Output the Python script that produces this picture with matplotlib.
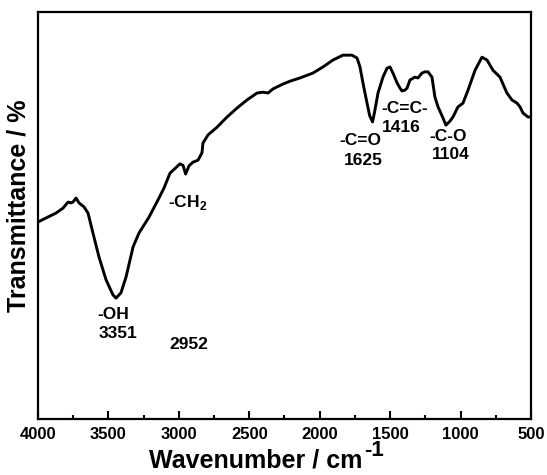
import matplotlib
matplotlib.use("Agg")
import matplotlib.pyplot as plt
from matplotlib.ticker import MultipleLocator

plt.rcParams['font.family'] = ['Liberation Sans', 'DejaVu Sans']
plt.rcParams['font.weight'] = 'bold'
plt.rcParams['mathtext.fontset'] = 'custom'
plt.rcParams['mathtext.rm'] = 'Liberation Sans:bold'
plt.rcParams['mathtext.bf'] = 'Liberation Sans:bold'

# FTIR spectrum, wavenumber (cm-1) vs transmittance (a.u.)
wavenumber = [4000, 3943, 3872, 3823, 3787, 3766, 3752, 3730, 3709, 3673,
              3645, 3610, 3567, 3517, 3468, 3446, 3411, 3375, 3325, 3283,
              3212, 3141, 3105, 3063, 2992, 2970, 2952, 2928, 2900, 2864,
              2836, 2829, 2793, 2729, 2658, 2587, 2516, 2445, 2403, 2367,
              2332, 2261, 2211, 2140, 2048, 1977, 1906, 1835, 1771, 1735,
              1714, 1693, 1664, 1645, 1625, 1610, 1586, 1551, 1522, 1501,
              1480, 1451, 1430, 1416, 1395, 1380, 1359, 1324, 1302, 1274,
              1253, 1231, 1203, 1182, 1160, 1125, 1104, 1075, 1054, 1018,
              983, 947, 897, 848, 812, 770, 720, 671, 635, 599,
              578, 557, 521, 500]
transmittance = [48.4, 49.4, 50.6, 51.8, 53.3, 53.1, 53.3, 54.3, 53.1, 52.1,
                 50.6, 45.7, 39.8, 34.2, 30.5, 29.7, 31.0, 34.9, 42.3, 45.7,
                 49.6, 54.3, 56.8, 60.4, 62.7, 62.3, 60.2, 62.2, 63.1, 63.6,
                 65.4, 67.8, 69.8, 71.7, 74.2, 76.4, 78.4, 80.1, 80.3, 80.1,
                 81.1, 82.3, 83.0, 83.8, 85.0, 86.5, 88.2, 89.4, 89.4, 88.7,
                 86.5, 82.6, 77.6, 74.5, 73.0, 75.5, 80.1, 84.0, 86.2, 86.5,
                 85.0, 82.6, 81.3, 80.6, 80.8, 81.3, 83.3, 84.0, 83.8, 85.0,
                 85.3, 85.3, 84.0, 79.1, 76.7, 74.0, 72.2, 73.2, 74.2, 76.7,
                 77.6, 80.8, 85.7, 88.9, 88.2, 85.7, 84.0, 80.1, 78.4, 77.6,
                 76.7, 75.2, 74.2, 74.2]

# band annotations: (text, wavenumber, transmittance)
bands = [("-OH", 3468, 25.6), ("3351", 3429, 21.0), ("2952", 2928, 18.2),
         ("-C=O", 1708, 68.5), ("1625", 1693, 63.6),
         ("-C=C-", 1395, 76.4), ("1416", 1424, 71.7),
         ("-C-O", 1090, 69.3), ("1104", 1069, 64.9)]

fig = plt.figure(figsize=(5.47, 4.75), dpi=100)
ax = fig.add_axes([0.0695, 0.1179, 0.9012, 0.8568])

ax.plot(wavenumber, transmittance, color='black', lw=2.1, solid_joinstyle='round')

ax.set_xlim(4000, 500)
ax.set_ylim(0, 100)
ax.xaxis.set_major_locator(MultipleLocator(500))
ax.xaxis.set_minor_locator(MultipleLocator(250))
ax.tick_params(axis='x', which='major', direction='in', length=6, width=1.5,
               labelsize=12, pad=6)
ax.tick_params(axis='x', which='minor', direction='in', length=3, width=1.5)
ax.tick_params(axis='y', left=False, labelleft=False)
for sp in ax.spines.values():
    sp.set_linewidth(1.6)

ax.set_xlabel('Wavenumber / cm', fontsize=18, fontweight='bold')
ax.xaxis.set_label_coords(0.442, -0.073)
ax.annotate('-1', xy=(1.0, 1.0), xycoords=ax.xaxis.label, xytext=(1, 6),
            textcoords='offset points', ha='left', va='top',
            fontsize=16, fontweight='bold')
ax.set_ylabel('Transmittance / %', fontsize=18, fontweight='bold')
ax.yaxis.set_label_coords(-0.016, 0.523)

for txt, x, y in bands:
    ax.text(x, y, txt, ha='center', va='center', fontsize=12.5, fontweight='bold')
ax.text(2935, 53.3, '-CH$_{2}$', ha='center', va='center', fontsize=12.5,
        fontweight='bold')

fig.savefig('out.png', dpi=100)
